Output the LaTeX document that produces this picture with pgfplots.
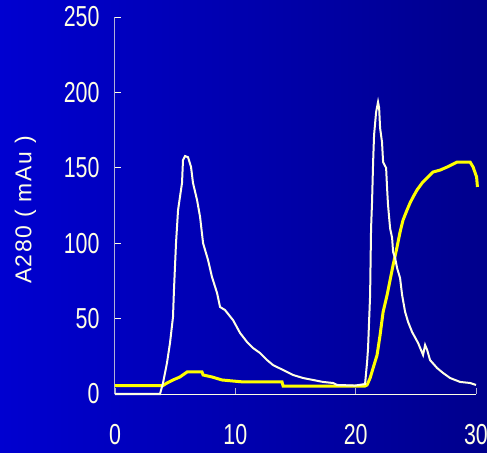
\documentclass[border=0pt]{standalone}
\usepackage{pgfplots}
\pgfplotsset{compat=1.18}
\usepackage{fontspec}
\setmainfont{Liberation Sans}[FakeStretch=0.74]
\newfontfamily\labelfont{Liberation Sans}[LetterSpace=7]
\definecolor{bgL}{RGB}{0,0,208}
\definecolor{bgR}{RGB}{0,0,140}
\definecolor{cream}{RGB}{255,255,228}
\definecolor{axgray}{RGB}{175,175,215}
\definecolor{yel}{RGB}{255,255,0}
\begin{document}
\begin{tikzpicture}
\shade[left color=bgL, right color=bgR] (-115bp,-59bp) rectangle (372bp,394bp);
\useasboundingbox (-115bp,-59bp) rectangle (372bp,394bp);
\begin{axis}[
  at={(0,0)}, anchor=south west,
  scale only axis, width=361bp, height=377bp,
  xmin=0, xmax=30, ymin=0, ymax=250,
  axis lines=left,
  axis line style={-, line width=1bp},
  x axis line style={draw=cream},
  y axis line style={draw=axgray},
  xtick={0,10,20,30}, ytick={0,50,100,150,200,250},
  tick align=inside, major tick length=6bp,
  xtick style={draw=axgray, line width=0.8bp},
  ytick style={draw=cream, line width=0.8bp},
  /pgf/number format/assume math mode=true,
  ticklabel style={font=\fontsize{29}{32}\selectfont, text=cream},
  xticklabel style={yshift=-27bp},
  yticklabel style={xshift=-12bp},
  ylabel={A280 ( mAu )},
  ylabel style={font=\labelfont\fontsize{23}{26}\selectfont, text=cream, at={(axis description cs:-0.248,0.488)}, anchor=center, rotate=0},
  clip=false,
]
% Yellow trace
\addplot[yel, line width=3bp] coordinates {
(0,5.6) (3.99,5.6) (4.32,7.3) (4.82,9.3) (5.40,11.3) (5.99,14.6) (7.23,14.6)
(7.32,12.6) (8.06,11.3) (8.89,9.3) (9.81,8.6) (10.64,8.0) (13.88,8.0) (13.97,5.3)
(20.78,5.3) (20.95,6.0) (21.20,10.6) (21.45,17.2) (21.78,25.9) (22.03,39.1)
(22.28,54.4) (22.61,65.6) (22.86,75.6) (23.11,85.5) (23.44,97.5) (23.69,107.4)
(23.94,115.4) (24.27,122.0) (24.52,126.7) (24.77,130.6) (25.10,135.3) (25.52,139.9)
(26.02,143.9) (26.43,147.2) (27.02,148.5) (27.60,150.5) (28.43,153.8) (29.51,153.8)
(29.76,150.5) (30.05,143.9) (30.12,137.3)
};
% White trace
\addplot[cream, line width=2bp] coordinates {
(0,0) (3.74,0) (3.99,7.3) (4.32,20.6) (4.57,33.8) (4.82,51.1) (4.90,69.0)
(5.07,100.0) (5.24,122.0) (5.57,140.0) (5.65,155.0) (5.82,157.8) (6.07,157.0)
(6.32,150.5) (6.48,140.0) (6.82,128.6) (7.07,117.4) (7.32,100.0) (7.73,88.9)
(8.06,77.6) (8.48,67.0) (8.73,57.7) (9.14,55.7) (9.81,49.0) (10.39,40.5)
(10.97,34.5) (11.47,30.5) (12.05,27.2) (12.64,22.5) (13.13,19.2) (13.97,15.9)
(14.80,12.6) (15.63,10.6) (16.46,9.3) (17.29,8.0) (18.12,7.3) (18.45,6.0)
(19.95,5.6) (20.78,6.6) (20.95,21.2) (21.03,30.5) (21.20,65.6) (21.28,110.0)
(21.36,127.0) (21.45,153.8) (21.53,171.8) (21.70,187.0) (21.86,193.6) (21.95,189.7)
(22.03,176.4) (22.19,167.0) (22.28,153.8) (22.53,149.9) (22.61,136.6) (22.69,125.3)
(22.86,110.0) (23.03,103.4) (23.11,94.2) (23.28,90.2) (23.44,83.6) (23.69,76.9)
(23.86,65.6) (24.11,54.4) (24.36,47.7) (24.69,41.1) (25.19,33.8) (25.60,25.9)
(25.77,32.5) (25.94,29.2) (26.18,22.5) (26.77,17.2) (27.27,13.9) (27.85,10.6)
(28.68,8.0) (29.51,7.3) (30.0,6.0)
};
\end{axis}
\end{tikzpicture}
\end{document}
